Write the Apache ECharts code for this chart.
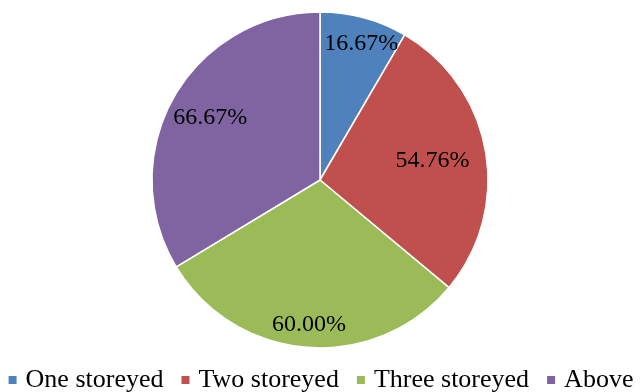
<!DOCTYPE html>
<html>
<head>
<meta charset="utf-8">
<script src="https://cdn.jsdelivr.net/npm/echarts@6/dist/echarts.min.js"></script>
<style>html,body{margin:0;padding:0;background:#fff;}#c{width:640px;height:392px;}</style>
</head>
<body>
<div id="c"></div>
<script>
var categories = ['One storeyed', 'Two storeyed', 'Three storeyed', 'Above'];
var values = [16.67, 54.76, 60.00, 66.67];
var colors = ['#4F81BD', '#C0504D', '#9BBB59', '#8064A2'];
var labelRadiusFrac = [0.85, 0.68, 0.865, 0.75];
var labelAngleShiftDeg = [1.6, 0, 0, 0];

var CX = 320, CY = 180, R = 168;
var total = values.reduce(function (a, b) { return a + b; }, 0);
function midAngle(i) {
  var s = 0;
  for (var k = 0; k < i; k++) s += values[k];
  return (s + values[i] / 2) / total * 2 * Math.PI;
}

var chart = echarts.init(document.getElementById('c'));
chart.setOption({
  animation: false,
  textStyle: { fontFamily: 'Liberation Serif' },
  legend: {
    top: 367,
    left: 'center',
    padding: 0,
    itemWidth: 10,
    itemHeight: 10,
    itemGap: 16,
    icon: 'rect',
    textStyle: { fontFamily: 'Liberation Serif', fontSize: 26, lineHeight: 26, color: '#000', padding: [0, 0, 0, 3] },
    data: categories
  },
  series: [{
    type: 'pie',
    center: [CX, CY],
    radius: [0, R],
    startAngle: 90,
    clockwise: true,
    avoidLabelOverlap: false,
    itemStyle: { borderColor: '#fff', borderWidth: 1.5 },
    label: {
      show: true,
      position: 'inside',
      formatter: function (p) { return p.value.toFixed(2) + '%'; },
      fontFamily: 'Liberation Serif',
      fontSize: 24,
      color: '#000'
    },
    labelLayout: function (p) {
      var a = midAngle(p.dataIndex) + labelAngleShiftDeg[p.dataIndex] * Math.PI / 180;
      var r = R * labelRadiusFrac[p.dataIndex];
      return { x: CX + r * Math.sin(a), y: CY - r * Math.cos(a), align: 'center', verticalAlign: 'middle' };
    },
    emphasis: { disabled: true },
    data: categories.map(function (c, i) {
      return { name: c, value: values[i], itemStyle: { color: colors[i] } };
    })
  }]
});
</script>
</body>
</html>
